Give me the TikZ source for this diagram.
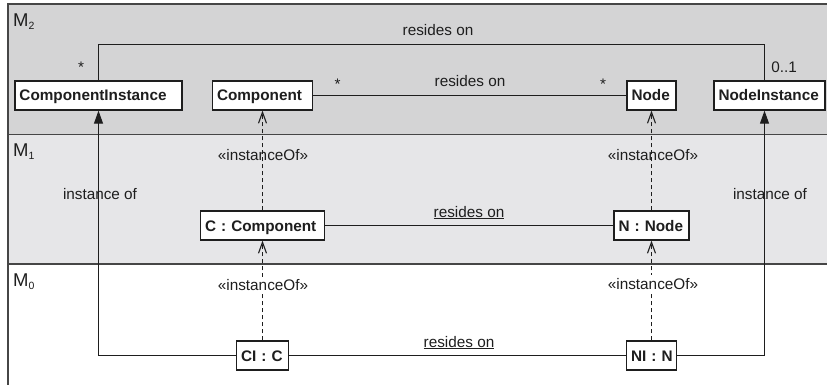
\documentclass[tikz,border=0pt]{standalone}
\usepackage{fontspec}
\setmainfont{Liberation Sans}
\usetikzlibrary{arrows.meta}
\definecolor{bandtwo}{RGB}{212,212,213}
\definecolor{bandone}{RGB}{230,230,232}
\definecolor{ink}{RGB}{30,30,30}
\definecolor{rule}{RGB}{70,70,70}
\tikzset{
  every node/.style={text=ink, font=\fontsize{15.3}{18}\selectfont},
  cls/.style={draw=ink, line width=1.3pt, fill=white, inner xsep=4.5pt, inner ysep=0pt,
    minimum height=29pt, text height=11pt, text depth=0pt, align=left,
    font=\fontsize{15.3}{18}\selectfont\bfseries},
  txt/.style={anchor=base, inner sep=0pt},
  conn/.style={draw=ink, line width=1.1pt},
  dep/.style={conn, dash pattern=on 4pt off 3pt,
    -{Straight Barb[length=11pt, width=8pt, line width=1.1pt]}},
  inst/.style={conn, -{Triangle[length=13pt, width=9pt]}},
  level/.style={anchor=base west, inner sep=0pt, font=\fontsize{18.5}{20}\selectfont}
}
\begin{document}
\begin{tikzpicture}[x=1pt, y=-1pt]
\useasboundingbox (0,0) rectangle (827,385);
% meta-level bands
\fill[bandtwo] (8,4) rectangle (827,134.5);
\fill[bandone] (8,134.5) rectangle (827,264);
\draw[rule, line width=1.3pt] (8,385) -- (8,4) -- (827,4);
\draw[rule, line width=1.3pt] (8,134.5) -- (827,134.5);
\draw[rule, line width=1.3pt] (8,264) -- (827,264);
\node[level] (m2) at (13,26.7) {M\textsubscript{\fontsize{10.5}{12}\selectfont 2}};
\node[level] (m1) at (13,156.5) {M\textsubscript{\fontsize{10.5}{12}\selectfont 1}};
\node[level] (m0) at (13,286.5) {M\textsubscript{\fontsize{10.5}{12}\selectfont 0}};

% classes and instances
\node[cls, text width=158pt] (ci)   at (98.5,95.5)  {\mbox{ComponentInstance}};
\node[cls, text width=91pt]  (comp) at (262.5,95.5) {\mbox{Component}};
\node[cls, text width=40pt]  (node) at (651.5,95.5) {\mbox{Node}};
\node[cls, text width=102pt] (ni)   at (769.5,95.5) {\mbox{NodeInstance}};
\node[cls, text width=115pt] (cc)   at (262.5,225.5){\mbox{C : Component}};
\node[cls, text width=66pt]  (nn)   at (651.5,225.5){\mbox{N : Node}};
\node[cls, text width=43pt]  (cic)  at (262.5,355.5){\mbox{CI : C}};
\node[cls, text width=41pt]  (nin)  at (651.5,355.5){\mbox{NI : N}};
\coordinate (nix) at (764.5,0);
\coordinate (topy) at (0,44.5);

% labels crossed by connectors
\node[txt] (l1) at (263,160.3) {«instanceOf»};
\node[txt] (l2) at (653,160.3) {«instanceOf»};
\node[txt] (l3) at (100,199) {instance of};
\node[txt] (l4) at (770,199) {instance of};

% associations
\draw[conn] (ci.north) -- (ci.north |- topy) -| (ni.north -| nix);
\draw[conn] (comp) -- (node);
\draw[conn] (cc) -- (nn);
\draw[conn] (cic) -- (nin);
% instance-of links
\draw[inst] (cic.west) -| (ci.south);
\draw[inst] (nin.east) -| (ni.south -| nix);
% dependencies
\draw[dep] (cic.north) -- (cc.south);
\draw[dep] (cc.north) -- (comp.south);
\draw[dep] (nin.north) -- (nn.south);
\draw[dep] (nn.north) -- (node.south);

% association labels
\node[txt] (r2) at (438,36) {resides on};
\node[txt] (s1) at (81,73) {*};
\node[txt] (s2) at (784,72.7) {0..1};
\node[txt] (s3) at (337.5,90) {*};
\node[txt] (r3) at (470,87) {resides on};
\node[txt] (s4) at (603,90) {*};
\node[txt] (r1) at (469,217) {\underline{resides on}};
\node[txt] (r0) at (459,347) {\underline{resides on}};
\node[txt, fill=white, inner xsep=1pt, inner ysep=3pt] (l5) at (263,290.7) {«instanceOf»};
\node[txt, fill=white, inner xsep=1pt, inner ysep=3pt] (l6) at (653,289.5) {«instanceOf»};
\end{tikzpicture}
\end{document}
